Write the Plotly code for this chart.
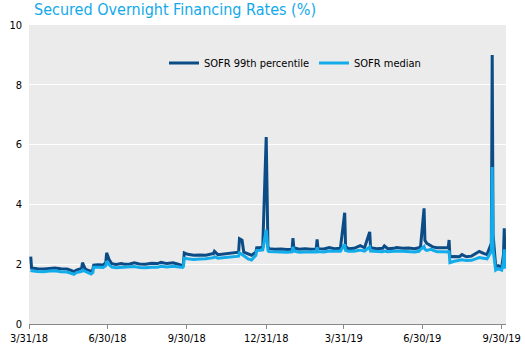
import plotly.graph_objects as go

dates = [
 "2018-04-02","2018-04-03","2018-04-10","2018-04-17","2018-04-24","2018-04-30","2018-05-07","2018-05-14",
 "2018-05-18","2018-05-22","2018-05-25","2018-05-31","2018-06-01","2018-06-04","2018-06-07","2018-06-11",
 "2018-06-13","2018-06-14","2018-06-19","2018-06-25","2018-06-28","2018-06-29","2018-07-02","2018-07-05",
 "2018-07-10","2018-07-16","2018-07-20","2018-07-26","2018-07-31","2018-08-06","2018-08-13","2018-08-20",
 "2018-08-27","2018-08-31","2018-09-07","2018-09-14","2018-09-20","2018-09-25","2018-09-26","2018-09-27",
 "2018-10-01","2018-10-08","2018-10-15","2018-10-22","2018-10-31","2018-11-01","2018-11-05","2018-11-12",
 "2018-11-19","2018-11-26","2018-11-29","2018-11-30","2018-12-03","2018-12-05","2018-12-10","2018-12-14",
 "2018-12-19","2018-12-20","2018-12-24","2018-12-27","2018-12-31","2019-01-02","2019-01-03","2019-01-10",
 "2019-01-17","2019-01-24","2019-01-30","2019-01-31","2019-02-01","2019-02-07","2019-02-14","2019-02-21",
 "2019-02-27","2019-02-28","2019-03-01","2019-03-08","2019-03-14","2019-03-20","2019-03-27","2019-04-01",
 "2019-04-02","2019-04-05","2019-04-12","2019-04-16","2019-04-19","2019-04-24","2019-04-30","2019-05-01",
 "2019-05-08","2019-05-15","2019-05-17","2019-05-21","2019-05-28","2019-05-31","2019-06-07","2019-06-14",
 "2019-06-21","2019-06-26","2019-06-28","2019-07-02","2019-07-03","2019-07-05","2019-07-10","2019-07-12",
 "2019-07-17","2019-07-24","2019-07-30","2019-07-31","2019-08-01","2019-08-06","2019-08-12","2019-08-15",
 "2019-08-20","2019-08-26","2019-08-30","2019-09-04","2019-09-09","2019-09-13","2019-09-18","2019-09-19",
 "2019-09-20","2019-09-23","2019-09-24","2019-09-26","2019-09-30","2019-10-01","2019-10-02","2019-10-03",
 "2019-10-04",
]

sofr_99th = [
 2.25,1.87,1.85,1.84,1.86,1.87,1.85,1.84,
 1.80,1.75,1.80,1.86,2.05,1.85,1.80,1.76,
 1.82,1.97,1.98,1.97,2.05,2.38,2.15,2.02,
 1.99,2.02,2.00,2.01,2.05,2.01,2.00,2.03,
 2.02,2.06,2.02,2.05,2.00,1.95,2.00,2.38,
 2.33,2.30,2.31,2.30,2.36,2.43,2.32,2.34,
 2.35,2.37,2.40,2.85,2.80,2.40,2.33,2.30,
 2.40,2.55,2.55,2.58,6.25,2.60,2.52,2.50,
 2.51,2.49,2.50,2.87,2.55,2.50,2.52,2.50,
 2.51,2.83,2.52,2.51,2.56,2.52,2.53,3.72,
 2.60,2.52,2.53,2.58,2.62,2.55,3.08,2.55,
 2.52,2.53,2.61,2.52,2.53,2.56,2.53,2.54,
 2.52,2.55,2.60,3.87,2.80,2.70,2.62,2.58,
 2.55,2.56,2.55,2.81,2.25,2.26,2.25,2.32,
 2.25,2.27,2.35,2.43,2.36,2.32,2.70,9.00,
 3.00,1.95,1.92,1.95,1.90,2.05,2.30,3.20,
 1.93,
]

sofr_median = [
 1.80,1.78,1.76,1.75,1.77,1.78,1.75,1.74,
 1.70,1.66,1.72,1.76,1.80,1.76,1.70,1.67,
 1.72,1.90,1.90,1.89,1.95,2.10,1.98,1.90,
 1.88,1.89,1.88,1.89,1.92,1.89,1.88,1.90,
 1.90,1.93,1.91,1.93,1.92,1.89,1.92,2.20,
 2.18,2.16,2.17,2.18,2.22,2.25,2.20,2.22,
 2.24,2.24,2.27,2.38,2.33,2.28,2.18,2.14,
 2.30,2.46,2.47,2.48,3.15,2.46,2.42,2.41,
 2.42,2.40,2.41,2.58,2.44,2.40,2.41,2.40,
 2.41,2.57,2.42,2.41,2.44,2.43,2.43,2.67,
 2.46,2.43,2.43,2.46,2.47,2.44,2.58,2.44,
 2.42,2.42,2.44,2.42,2.43,2.44,2.43,2.42,
 2.41,2.43,2.50,2.59,2.50,2.46,2.50,2.47,
 2.42,2.42,2.41,2.45,2.05,2.10,2.12,2.15,
 2.12,2.13,2.17,2.22,2.20,2.18,2.43,5.25,
 2.50,1.80,1.82,1.85,1.80,1.95,2.05,2.50,
 1.85,
]

tick_vals = ["2018-03-31","2018-06-30","2018-09-30","2018-12-31","2019-03-31","2019-06-30","2019-09-30"]
tick_text = ["3/31/18","6/30/18","9/30/18","12/31/18","3/31/19","6/30/19","9/30/19"]

FONT = "DejaVu Sans Condensed, Tahoma, Liberation Sans, sans-serif"

fig = go.Figure()
fig.add_trace(go.Scatter(x=dates, y=sofr_99th, mode="lines", name="SOFR 99th percentile",
                         line=dict(color="#0B4C87", width=3)))
fig.add_trace(go.Scatter(x=dates, y=sofr_median, mode="lines", name="SOFR median",
                         line=dict(color="#13ACEA", width=3)))

fig.update_layout(
    width=525, height=346,
    margin=dict(l=29, r=19, t=25, b=22, autoexpand=False),
    paper_bgcolor="white", plot_bgcolor="#EBEBEB",
    font=dict(family=FONT, size=11, color="black"),
    title=dict(text="Secured Overnight Financing Rates (%)", x=34/525, xanchor="left",
               xref="container", yref="container", y=1 - 9.5/346, yanchor="middle",
               font=dict(family=FONT, size=16, color="#13A9EA")),
    legend=dict(orientation="h", x=(169-29-5)/477, xanchor="left", y=(324-63)/299, yanchor="middle",
                bgcolor="rgba(0,0,0,0)", font=dict(family=FONT, size=11, color="black"),
                entrywidth=105, entrywidthmode="pixels"),
    showlegend=True,
)
fig.update_xaxes(range=["2018-03-31", "2019-10-05"], tickmode="array", tickvals=tick_vals, ticktext=tick_text,
                 showgrid=False, showline=True, linecolor="#888888", linewidth=1, automargin=False,
                 ticks="outside", ticklen=4, tickcolor="#888888", zeroline=False)
fig.update_yaxes(range=[0, 10], dtick=2, showgrid=True, gridcolor="white", gridwidth=1, automargin=False,
                 zeroline=False, showline=False, ticks="", ticklabelstandoff=6)

fig.write_html("out.html")
